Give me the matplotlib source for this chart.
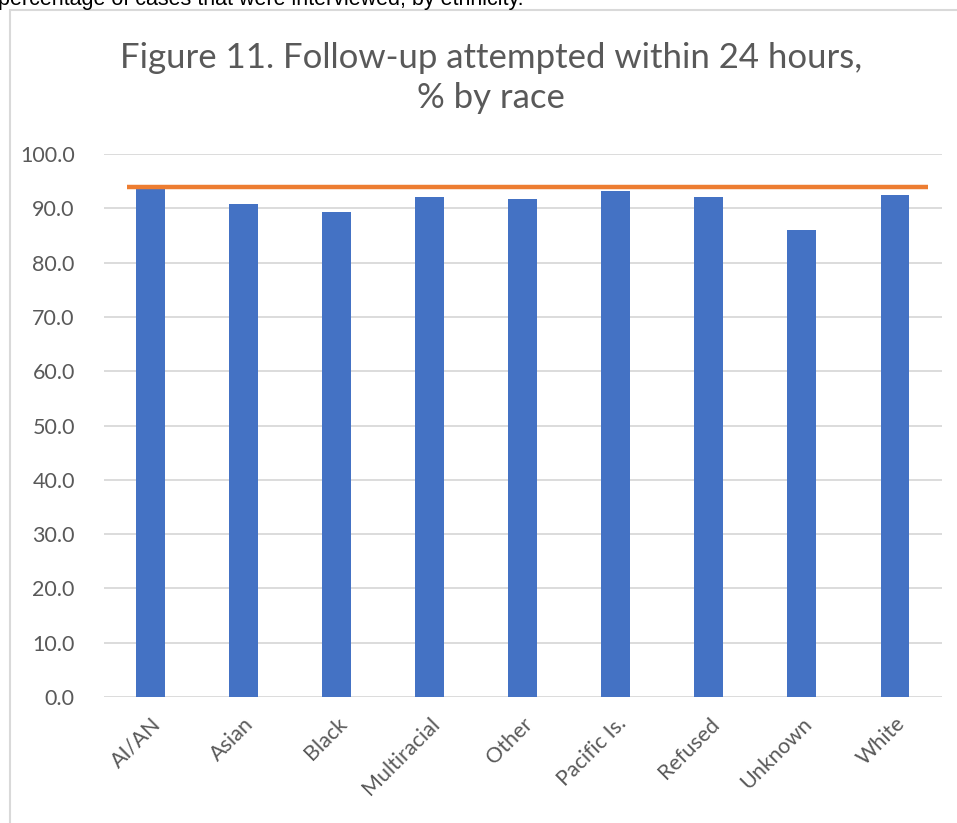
import matplotlib.pyplot as plt
from matplotlib.patches import Rectangle

# Chart values
races = ["AI/AN", "Asian", "Black", "Multiracial", "Other",
         "Pacific Is.", "Refused", "Unknown", "White"]
pct_attempted = [93.5, 90.8, 89.3, 92.1, 91.7, 93.2, 92.1, 86.0, 92.4]
overall_pct = 93.9
y_ticks = [0, 10, 20, 30, 40, 50, 60, 70, 80, 90, 100]

grey_txt = "#595959"
grid_col = "#d9d9d9"

fig = plt.figure(figsize=(9.57, 8.23), dpi=100)
fig.patch.set_facecolor("white")

# cut-off sentence from the surrounding document
fig.text(-0.002, 1 - 5/823, "percentage of cases that were interviewed, by ethnicity.",
         fontsize=15.5, family="Liberation Sans", color="black", va="baseline", ha="left")

# chart frame
fig.patches.append(Rectangle((10/957, -0.01), 1.0, 1 - 10/823 + 0.01,
                             transform=fig.transFigure, fill=False,
                             edgecolor=grid_col, linewidth=1.5))

fig.text(0.513, 0.905, "Figure 11. Follow-up attempted within 24 hours,\n% by race",
         ha="center", va="center", fontsize=25, color=grey_txt, family="Lato",
         linespacing=1.3)

ax = fig.add_axes([104/957, 1 - 697/823, 837.5/957, 543/823])
pos = list(range(len(races)))
ax.bar(pos, pct_attempted, width=0.31, color="#4472c4", zorder=2)
ax.hlines(overall_pct, -0.25, 8.35, color="#ed7d31", linewidth=3.2, zorder=3)

ax.set_xlim(-0.5, len(races) - 0.5)
ax.set_ylim(0, 100)
ax.set_yticks(y_ticks)
ax.set_yticklabels([f"{v:.1f}" for v in y_ticks])
ax.set_xticks(pos)
ax.set_xticklabels(races, rotation=45, ha="right", rotation_mode="anchor")
ax.tick_params(axis="both", length=0, labelsize=15.5, labelcolor=grey_txt)
ax.tick_params(axis="y", pad=21)
ax.tick_params(axis="x", pad=12)
for lab in ax.get_xticklabels() + ax.get_yticklabels():
    lab.set_family("Lato")

ax.yaxis.grid(True, color=grid_col, linewidth=1.3, zorder=0)
ax.set_axisbelow(True)
for s in ax.spines.values():
    s.set_visible(False)

fig.savefig("out.png", dpi=100)
